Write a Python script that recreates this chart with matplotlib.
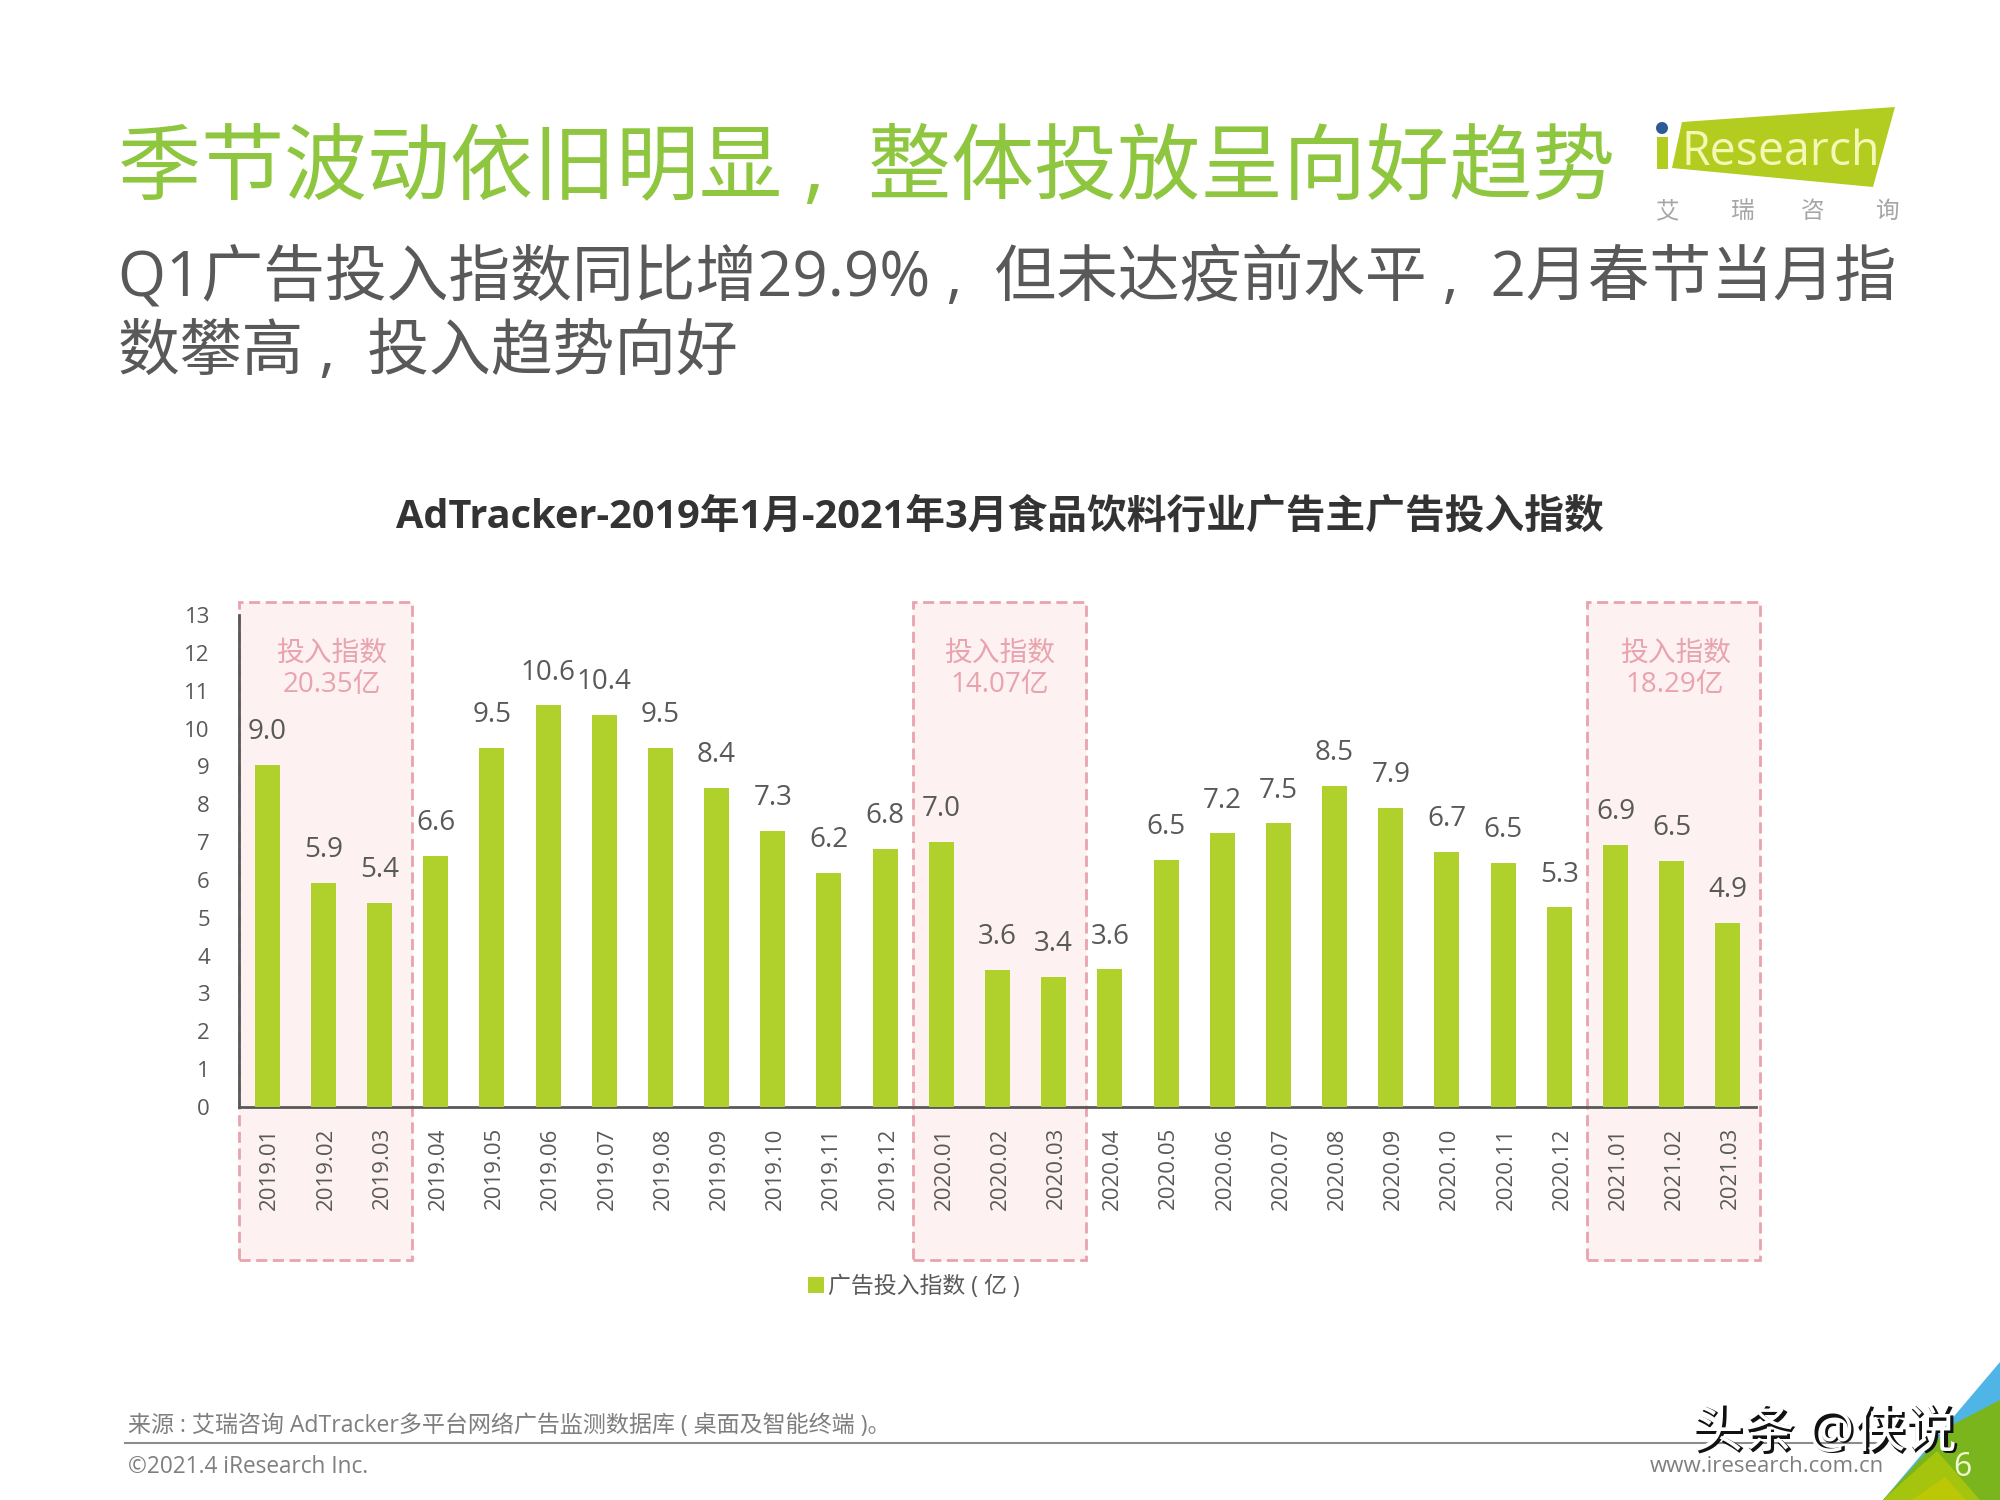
import matplotlib
matplotlib.use("Agg")
import matplotlib.pyplot as plt
from matplotlib.patches import Polygon, Rectangle, Circle
from matplotlib.transforms import ScaledTranslation

plt.rcParams['font.family'] = ['Open Sans', 'Noto Sans CJK SC', 'DejaVu Sans']

months = ['2019.01', '2019.02', '2019.03', '2019.04', '2019.05', '2019.06', '2019.07', '2019.08', '2019.09',
          '2019.10', '2019.11', '2019.12', '2020.01', '2020.02', '2020.03', '2020.04', '2020.05', '2020.06',
          '2020.07', '2020.08', '2020.09', '2020.10', '2020.11', '2020.12', '2021.01', '2021.02', '2021.03']
values = [9.04, 5.92, 5.39, 6.64, 9.49, 10.61, 10.37, 9.49, 8.44, 7.30, 6.19, 6.83, 7.00, 3.63, 3.44, 3.64, 6.53,
          7.23, 7.50, 8.48, 7.91, 6.74, 6.46, 5.28, 6.92, 6.51, 4.86]
yticks = list(range(0, 14))
q1_starts = [0, 12, 24]
q1_notes = ['投入指数\n20.35亿', '投入指数\n14.07亿', '投入指数\n18.29亿']

GREEN = '#b0d12c'
TEXT = '#595959'
PINK = '#e9a3ad'

fig = plt.figure(figsize=(20, 15), dpi=100, facecolor='white')

# full page layer in pixels, for the slide furniture
page = fig.add_axes([0, 0, 1, 1], zorder=0)
page.set_xlim(0, 2000)
page.set_ylim(1500, 0)
page.axis('off')

# the slide sets its commas low and mid cell, so plain commas with spaces
page.text(118, 172, '季节波动依旧明显 ,  整体投放呈向好趋势', fontsize=59.8, color='#8ec63f', va='center')
page.text(118, 279, 'Q1广告投入指数同比增29.9% ,  但未达疫前水平 ,  2月春节当月指', fontsize=44.5, color=TEXT, va='center')
page.text(118, 354, '数攀高 ,  投入趋势向好', fontsize=44.5, color=TEXT, va='center')
page.text(1000, 517, 'AdTracker-2019年1月-2021年3月食品饮料行业广告主广告投入指数', fontsize=28.6, color='#333333',
          ha='center', va='center', weight='bold')

# logo
page.add_patch(Polygon([(1682, 122), (1895, 107), (1873, 187), (1672, 168)], color='#b2cc1f', lw=0))
page.add_patch(Rectangle((1657, 137), 11, 32, color='#b2cc1f', lw=0))
page.add_patch(Circle((1662, 128), 6, color='#2b5a94', lw=0))
page.text(1781, 152, 'Research', fontsize=33.5, color='#f4f8b4', ha='center', va='center')
for x, ch in zip([1668, 1743, 1813, 1887], '艾瑞咨询'):
    page.text(x, 212, ch, fontsize=17, color='#a6a6a6', ha='center', va='center')

# footer
page.plot([125, 1885], [1443, 1443], color='#8c8c8c', lw=1.5)
page.text(128, 1426, '来源 : 艾瑞咨询 AdTracker多平台网络广告监测数据库 ( 桌面及智能终端 )。', fontsize=16.6, color='#7f7f7f', va='center')
page.text(128, 1467, '©2021.4 iResearch Inc.', fontsize=16.3, color='#7f7f7f', va='center')
page.text(1884, 1467, 'www.iresearch.com.cn', fontsize=16, color='#7f7f7f', ha='right', va='center')

# corner
page.add_patch(Polygon([(1883, 1500), (2000, 1362), (2000, 1500)], color='#4fb5e6', lw=0))
page.add_patch(Polygon([(1883, 1500), (1950, 1426), (2000, 1400), (2000, 1500)], color='#7ab51d', lw=0))
page.add_patch(Polygon([(1883, 1500), (1937, 1451), (1980, 1500)], color='#a4c40e', lw=0))
page.add_patch(Polygon([(1912, 1500), (1945, 1477), (1966, 1500)], color='#bcc806', lw=0))
page.text(1962, 1468, '6', fontsize=23, color='#f2f7d0', ha='center', va='center')

# chart
ax = fig.add_axes([239 / 2000, 1 - 1107 / 1500, (1756 - 239) / 2000, (1107 - 615) / 1500], zorder=1)
ax.patch.set_alpha(0)
xs = list(range(len(months)))
ax.bar(xs, values, width=0.445, color=GREEN, zorder=3, label='广告投入指数 ( 亿 )')
ax.set_xlim(-0.5, 26.5)
ax.set_ylim(0, 13)

for start, note, cx in zip(q1_starts, q1_notes, [1.15, 13.04, 25.06]):
    ax.add_patch(Rectangle((start - 0.5, -4.04), 3.08, 17.38, facecolor='#fdf1f2', edgecolor=PINK, lw=2,
                           linestyle=(0, (4, 2)), clip_on=False, zorder=0))
    ax.text(cx, 11.56, note, fontsize=20, color=PINK, ha='center', va='center', linespacing=1.15, zorder=4)

for x, v in zip(xs, values):
    ax.annotate('%.1f' % v, (x, v), xytext=(0, 23.5), textcoords='offset points', fontsize=20, color=TEXT,
                ha='center', va='center', zorder=4)

ax.set_xticks(xs)
ax.set_xticklabels(months, rotation=90)
ax.set_yticks(yticks)
ax.tick_params(axis='x', length=0, pad=14.5, labelsize=16, labelcolor=TEXT)
ax.tick_params(axis='y', length=0, pad=21, labelsize=16, labelcolor=TEXT)
nudge = ScaledTranslation(2 / 72, 0, fig.dpi_scale_trans)
for label in ax.get_xticklabels():
    label.set_transform(label.get_transform() + nudge)
for side in ['top', 'right']:
    ax.spines[side].set_visible(False)
for side in ['left', 'bottom']:
    ax.spines[side].set_color(TEXT)
    ax.spines[side].set_linewidth(2)

ax.legend(loc='center', bbox_to_anchor=(675 / 1517, -0.366), frameon=False, fontsize=16.5, labelcolor=TEXT,
          handlelength=0.7, handleheight=0.7, handletextpad=0.2, borderpad=0)

# watermark on top of everything
top = fig.add_axes([0, 0, 1, 1], zorder=2)
top.set_xlim(0, 2000)
top.set_ylim(1500, 0)
top.axis('off')
top.text(1826, 1436, '头条 @侠说', fontsize=37, color='#111111', ha='center', va='center', weight='bold')
top.text(1824, 1433, '头条 @侠说', fontsize=37, color='white', ha='center', va='center')

fig.savefig('out.png', dpi=100)
